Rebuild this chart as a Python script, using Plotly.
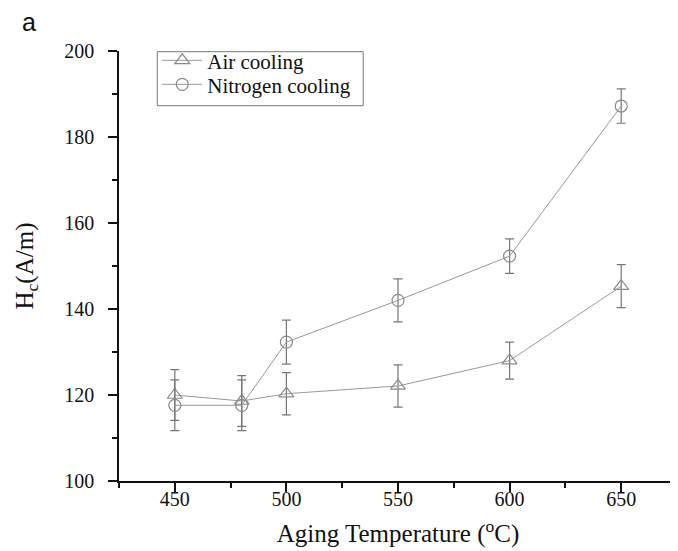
import plotly.graph_objects as go

temps = [450, 480, 500, 550, 600, 650]
air_hc = [120.0, 118.6, 120.3, 122.1, 128.0, 145.3]
air_err = [5.9, 5.9, 4.9, 4.9, 4.3, 5.0]
n2_hc = [117.6, 117.6, 132.3, 142.0, 152.3, 187.2]
n2_err = [5.9, 5.9, 5.1, 5.0, 4.0, 4.0]

series_names = ["Air cooling", "Nitrogen cooling"]
x_title = "Aging Temperature (<sup>o</sup>C)"
y_title = "H<sub>c</sub>(A/m)"

GREY = "#8a8a8a"
FONT = "Liberation Serif"

fig = go.Figure()
fig.add_trace(go.Scatter(
    x=temps, y=air_hc, name=series_names[0], mode="lines+markers", legend="legend",
    line=dict(color="#999", width=1),
    marker=dict(symbol="triangle-up-open", size=13, color=GREY, line=dict(width=1.2)),
    error_y=dict(type="data", array=air_err, visible=True, color="#777", thickness=1.2, width=4.5),
))
fig.add_trace(go.Scatter(
    x=temps, y=n2_hc, name=series_names[1], mode="lines+markers", legend="legend2",
    line=dict(color="#999", width=1),
    marker=dict(symbol="circle-open", size=12, color=GREY, line=dict(width=1.2)),
    error_y=dict(type="data", array=n2_err, visible=True, color="#777", thickness=1.2, width=4.5),
))

leg_common = dict(
    xanchor="left", yanchor="middle", borderwidth=0, bgcolor="rgba(0,0,0,0)",
    font=dict(family=FONT, size=21, color="#111"), itemwidth=40,
)

fig.update_layout(
    width=678, height=551,
    margin=dict(l=111, r=9, t=43, b=78),
    paper_bgcolor="white", plot_bgcolor="white",
    font=dict(family=FONT, size=20, color="#111"),
    showlegend=True,
    legend=dict(x=0.0686, y=0.9775, **leg_common),
    legend2=dict(x=0.0686, y=0.9217, **leg_common),
    shapes=[dict(
        type="rect", xref="paper", yref="paper",
        x0=0.0686, x1=0.4376, y0=0.8728, y1=0.9984,
        line=dict(color="#777", width=1), fillcolor="rgba(0,0,0,0)", layer="below",
    )],
    annotations=[dict(
        text="a", x=-0.176, y=1.068, xref="paper", yref="paper",
        xanchor="left", yanchor="middle", showarrow=False, borderpad=0,
        font=dict(family="Liberation Sans", size=25, color="#111"),
    )],
)

fig.update_xaxes(
    range=[425, 675], tickvals=[450, 500, 550, 600, 650],
    showgrid=False, zeroline=False, showline=True, linecolor="#111", linewidth=1.5,
    ticks="outside", ticklen=9, tickwidth=1.5, tickcolor="#111",
    ticklabelstandoff=-10,
    minor=dict(tickvals=[425, 475, 525, 575, 625, 675], ticks="outside", ticklen=5, tickwidth=1.5, tickcolor="#111"),
    tickfont=dict(family=FONT, size=20, color="#111"),
    title=dict(text=x_title, font=dict(family=FONT, size=25, color="#111"), standoff=16),
)
fig.update_yaxes(
    range=[100, 200], tickvals=[100, 120, 140, 160, 180, 200],
    showgrid=False, zeroline=False, showline=True, linecolor="#111", linewidth=1.5,
    ticks="outside", ticklen=9, tickwidth=1.5, tickcolor="#111",
    ticklabelstandoff=10,
    minor=dict(tickvals=[110, 130, 150, 170, 190], ticks="outside", ticklen=5, tickwidth=1.5, tickcolor="#111"),
    tickfont=dict(family=FONT, size=20, color="#111"),
    title=dict(text=y_title, font=dict(family=FONT, size=25, color="#111"), standoff=24),
)

fig.write_html("out.html")
